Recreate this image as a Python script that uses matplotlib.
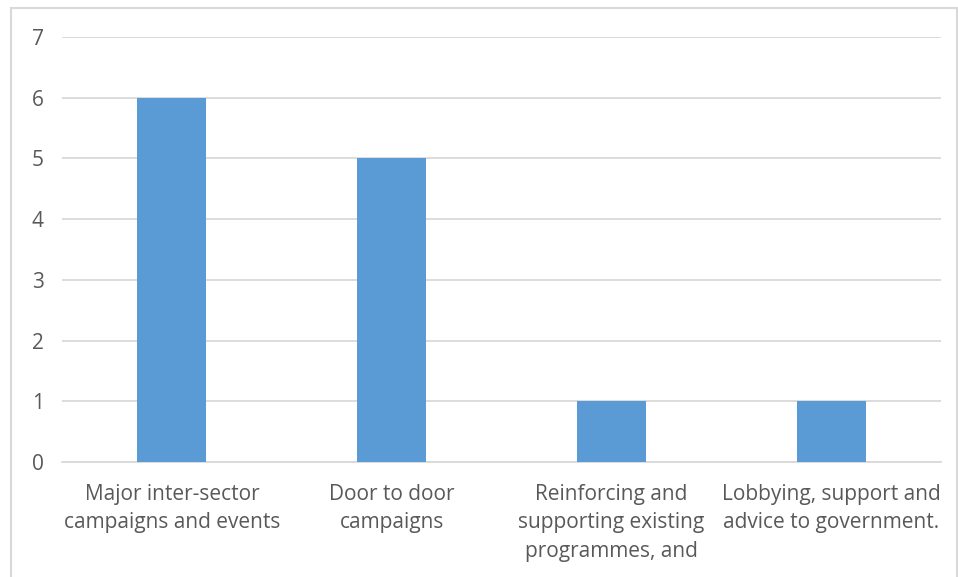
import matplotlib
matplotlib.use("Agg")
import matplotlib.pyplot as plt
from matplotlib.patches import Rectangle

categories = ["Major inter-sector\ncampaigns and events",
              "Door to door\ncampaigns",
              "Reinforcing and\nsupporting existing\nprogrammes, and",
              "Lobbying, support and\nadvice to government."]
values = [6, 5, 1, 1]
yticks = [0, 1, 2, 3, 4, 5, 6, 7]

plt.rcParams['font.family'] = ['Open Sans', 'DejaVu Sans']
text_color = '#595959'

fig = plt.figure(figsize=(9.58, 5.77), dpi=100)
fig.patches.append(Rectangle((11/958, -0.1), (957-11)/958, 1.1 - 8/577 + 0.0,
                             transform=fig.transFigure, fill=False,
                             edgecolor='#d9d9d9', linewidth=1.5, zorder=0))
ax = fig.add_axes([62/958, 1-462/577, (941-62)/958, (462-37)/577])
x = range(len(categories))
ax.bar(x, values, width=0.314, color='#5b9bd5', zorder=3)
ax.set_xlim(-0.5, len(categories)-0.5)
ax.set_ylim(0, 7)
ax.set_yticks(yticks)
ax.set_xticks(list(x))
ax.set_xticklabels(categories, linespacing=1.45)
ax.grid(axis='y', color='#d9d9d9', linewidth=1.3, zorder=0)
ax.set_axisbelow(True)
for s in ['top', 'right', 'left']:
    ax.spines[s].set_visible(False)
ax.spines['bottom'].set_color('#d9d9d9')
ax.spines['bottom'].set_linewidth(1.3)
ax.tick_params(axis='both', length=0, labelsize=15, colors=text_color)
ax.tick_params(axis='y', pad=13)
ax.tick_params(axis='x', pad=16)
ax.set_facecolor('white')
fig.savefig('out.png', dpi=100, facecolor='white')
